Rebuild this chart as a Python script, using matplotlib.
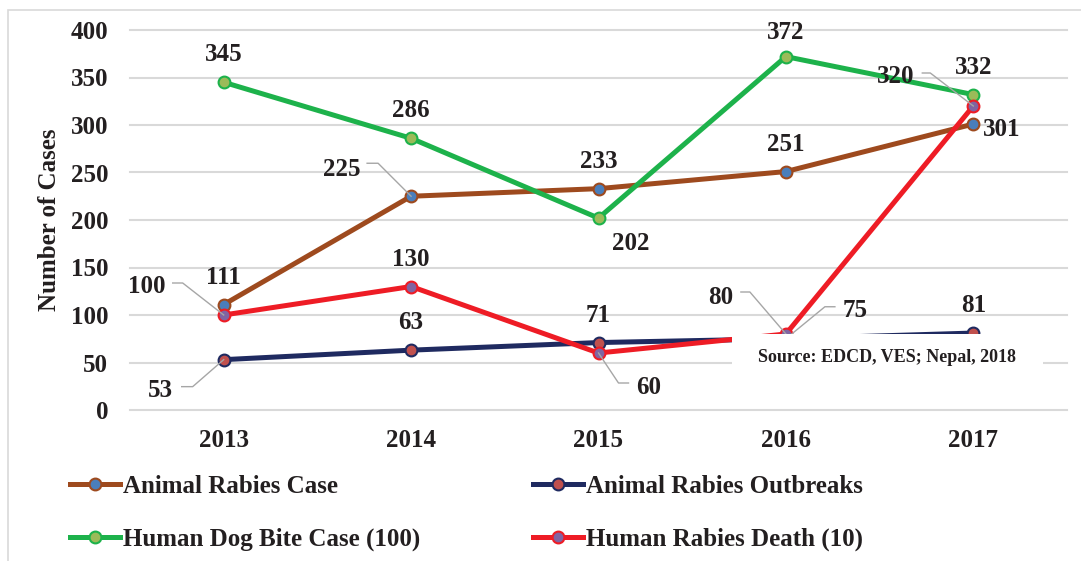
import matplotlib

matplotlib.use("Agg")
import matplotlib.pyplot as plt
import matplotlib.transforms as mtransforms
from matplotlib.lines import Line2D
from matplotlib.patches import Rectangle

years = ["2013", "2014", "2015", "2016", "2017"]
animal_cases = [111, 225, 233, 251, 301]
animal_outbreaks = [53, 63, 71, 75, 81]
dog_bites = [345, 286, 202, 372, 332]
human_deaths = [100, 130, 60, 80, 320]

names = [
    "Animal Rabies Case",
    "Animal Rabies Outbreaks",
    "Human Dog Bite Case (100)",
    "Human Rabies Death (10)",
]

W, H = 1081, 561
TXT = "#231F20"
FONT = "Liberation Serif"
plt.rcParams["font.family"] = [FONT, "DejaVu Serif"]
plt.rcParams["font.weight"] = "bold"
plt.rcParams["axes.labelweight"] = "bold"

# line colour, marker face colour
styles = [
    ("#9E4A1E", "#4A7EBB"),
    ("#1F2A60", "#C0504D"),
    ("#1DB24B", "#9BBB59"),
    ("#EE1C25", "#8064A2"),
]

# label offsets in pixels (dx, dy up), alignment, optional leader path
ABOVE = (0, 30, "center", None)
label_specs = [
    [ABOVE, (-69, 29, "center", [(-44, 33), (-33, 33), (0, 0)]), ABOVE, ABOVE,
     (10, -3, "left", None)],
    [(-63, -28, "center", [(-42, -27), (-31, -27), (0, 0)]), ABOVE, ABOVE,
     (69, 31, "center", [(0, 0), (39, 32), (49, 32)]), ABOVE],
    [ABOVE, ABOVE, (32, -23, "center", None), (0, 27, "center", None), ABOVE],
    [(-77, 31, "center", [(-51, 32), (-41, 32), (0, 0)]), ABOVE,
     (50, -32, "center", [(0, 0), (20, -30), (30, -30)]),
     (-65, 39, "center", [(-45, 42), (-36, 42), (0, 0)]),
     (-78, 32, "center", [(-51, 33), (-43, 33), (0, 0)])],
]


def fx(px):
    return px / W


def fy(py):
    return 1 - py / H


fig = plt.figure(figsize=(W / 100, H / 100), dpi=100)
fig.patches.append(Rectangle((fx(8), fy(600)), 1.0, fy(10) - fy(600),
                             transform=fig.transFigure, fill=False,
                             edgecolor="#D9D9D9", lw=1.2))

ax = fig.add_axes([fx(130), fy(410), (1067 - 130) / W, (410 - 30) / H])
ax.set_xlim(-0.5, 4.5)
ax.set_ylim(0, 400)
xs = list(range(len(years)))

for sp in ax.spines.values():
    sp.set_visible(False)
ax.set_yticks(range(0, 401, 50))
ax.set_xticks(xs)
ax.set_xticklabels(years)
ax.grid(axis="y", color="#D9D9D9", lw=1.5)
ax.set_axisbelow(True)
for gl in ax.get_ygridlines():
    gl.set_clip_on(False)
ax.tick_params(axis="both", length=0, labelsize=18, colors=TXT)
ax.tick_params(axis="y", pad=15.8)
ax.tick_params(axis="x", pad=14)
ax.set_ylabel("Number of Cases", fontsize=18, color=TXT, va="center",
              fontweight="bold")
ax.yaxis.set_label_coords((50 - 130) / 937, 0.5)

all_series = [animal_cases, animal_outbreaks, dog_bites, human_deaths]
handles = []
for vals, name, (lc, fc) in zip(all_series, names, styles):
    (ln,) = ax.plot(xs, vals, color=lc, lw=3.6, marker="o", ms=8.5,
                    mfc=fc, mec=lc, mew=1.5, label=name, clip_on=False)
    handles.append(ln)

pix = mtransforms.IdentityTransform()
for vals, specs in zip(all_series, label_specs):
    for i, (v, (dx, dy, ha, path)) in enumerate(zip(vals, specs)):
        ax.annotate(str(v), (i, v), xytext=(dx, dy), textcoords="offset pixels",
                    ha=ha, va="center_baseline", fontsize=18, color=TXT,
                    zorder=6)
        if path:
            px, py = ax.transData.transform((i, v))
            ax.add_line(Line2D([px + p[0] for p in path],
                               [py + p[1] for p in path],
                               transform=pix, color="#A6A6A6", lw=1.0,
                               zorder=5, clip_on=False))

# source note box over the lines
ax.add_patch(Rectangle((fx(732), fy(378)), fx(1043) - fx(732), fy(333.5) - fy(378),
                       transform=fig.transFigure, facecolor="white",
                       edgecolor="none", zorder=7, clip_on=False))
fig.text(fx(887), fy(358), "Source: EDCD, VES; Nepal, 2018", ha="center",
         va="center", fontsize=13, color=TXT, zorder=8)

leg_kw = dict(loc="center left", frameon=False, borderpad=0, borderaxespad=0,
              handlelength=2.0, handletextpad=0.12, labelspacing=1.2,
              fontsize=18, labelcolor=TXT)
fig.legend([handles[0], handles[2]], [names[0], names[2]],
           bbox_to_anchor=(fx(70), fy(513)), **leg_kw)
fig.legend([handles[1], handles[3]], [names[1], names[3]],
           bbox_to_anchor=(fx(533), fy(513)), **leg_kw)

fig.savefig("out.png", dpi=100)
